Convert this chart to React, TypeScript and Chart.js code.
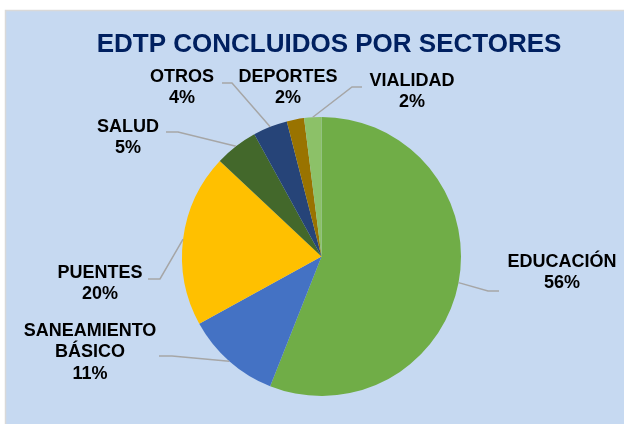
import React, { useEffect, useRef } from "react";
import { Chart, registerables } from "chart.js";

Chart.register(...registerables);

const TITLE = "EDTP CONCLUIDOS POR SECTORES";
const CATEGORIES = ["EDUCACIÓN", "SANEAMIENTO BÁSICO", "PUENTES", "SALUD", "OTROS", "DEPORTES", "VIALIDAD"];
const LABEL_LINES = [["EDUCACIÓN"], ["SANEAMIENTO", "BÁSICO"], ["PUENTES"], ["SALUD"], ["OTROS"], ["DEPORTES"], ["VIALIDAD"]];
const VALUES = [56, 11, 20, 5, 4, 2, 2];
const COLORS = ["#70AD47", "#4472C4", "#FFC000", "#43682B", "#264478", "#997300", "#8CC168"];

// layout of data labels: text block centre (first line) and leader elbow
const LABEL_LAYOUT = [
  { x: 562, y: 262, lead: { x1: 499, x2: 488, y: 291 } },
  { x: 90, y: 331, lead: { x1: 159, x2: 172, y: 356 } },
  { x: 100, y: 273, lead: { x1: 148, x2: 160, y: 279 } },
  { x: 128, y: 127, lead: { x1: 166, x2: 178, y: 132 } },
  { x: 182, y: 77, lead: { x1: 222, x2: 232, y: 83 } },
  { x: 288, y: 77, lead: null },
  { x: 412, y: 81, lead: { x1: 362, x2: 352, y: 87 } },
];

const FONT = '"Liberation Sans", Arial, sans-serif';

const bgPlugin = {
  id: "bgPlugin",
  beforeDraw(chart: any) {
    const ctx = chart.ctx;
    ctx.save();
    ctx.fillStyle = "#ffffff";
    ctx.fillRect(0, 0, chart.width, chart.height);
    ctx.fillStyle = "#C6D9F1";
    ctx.fillRect(6, 11, chart.width - 6, chart.height - 11);
    ctx.strokeStyle = "#D9D9D9";
    ctx.lineWidth = 1.5;
    ctx.beginPath();
    ctx.moveTo(5.5, chart.height);
    ctx.lineTo(5.5, 10.5);
    ctx.lineTo(chart.width, 10.5);
    ctx.stroke();
    ctx.restore();
  },
};

const labelPlugin = {
  id: "labelPlugin",
  afterDraw(chart: any) {
    const ctx = chart.ctx;
    const meta = chart.getDatasetMeta(0);
    const total = VALUES.reduce((a, b) => a + b, 0);
    ctx.save();
    // title
    ctx.fillStyle = "#002060";
    ctx.font = `bold 26px ${FONT}`;
    ctx.textAlign = "center";
    ctx.textBaseline = "middle";
    ctx.fillText(TITLE, 329, 45);

    meta.data.forEach((arc: any, i: number) => {
      const p = arc.getProps(["x", "y", "startAngle", "endAngle", "outerRadius"], true);
      const mid = (p.startAngle + p.endAngle) / 2;
      const ex = p.x + Math.cos(mid) * p.outerRadius;
      const ey = p.y + Math.sin(mid) * p.outerRadius;
      const L = LABEL_LAYOUT[i];
      if (L.lead) {
        ctx.strokeStyle = "#A6A6A6";
        ctx.lineWidth = 1.5;
        ctx.beginPath();
        ctx.moveTo(L.lead.x1, L.lead.y);
        ctx.lineTo(L.lead.x2, L.lead.y);
        ctx.lineTo(ex, ey);
        ctx.stroke();
      }
      const lines = [...LABEL_LINES[i], Math.round((VALUES[i] / total) * 100) + "%"];
      ctx.fillStyle = "#000000";
      ctx.font = `bold 18px ${FONT}`;
      ctx.textAlign = "center";
      ctx.textBaseline = "middle";
      lines.forEach((t, k) => ctx.fillText(t, L.x, L.y + k * 21.5));
    });
    ctx.restore();
  },
};

export default function App() {
  const ref = useRef<HTMLCanvasElement>(null);
  useEffect(() => {
    if (!ref.current) return;
    const chart = new Chart(ref.current, {
      type: "pie",
      data: {
        labels: CATEGORIES,
        datasets: [
          {
            data: VALUES,
            backgroundColor: COLORS,
            borderWidth: 0,
          },
        ],
      },
      options: {
        responsive: false,
        animation: false,
        devicePixelRatio: 1,
        layout: { padding: { top: 117, bottom: 28, left: 182, right: 163 } },
        plugins: {
          legend: { display: false },
          title: { display: false },
          tooltip: { enabled: false },
        },
      },
      plugins: [bgPlugin, labelPlugin],
    });
    return () => chart.destroy();
  }, []);
  return (
    <div style={{ position: "fixed", left: 0, top: 0, width: 624, height: 424 }}>
      <canvas ref={ref} width={624} height={424} style={{ width: 624, height: 424, display: "block" }} />
    </div>
  );
}
